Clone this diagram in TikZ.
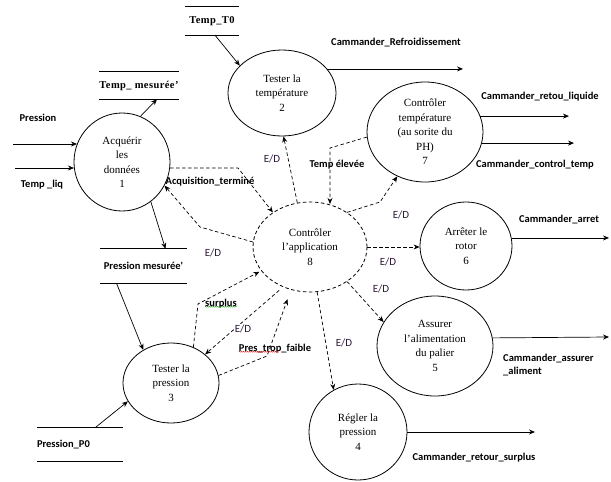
\documentclass[tikz,border=0pt]{standalone}
\usepackage{fontspec}
\setmainfont{Liberation Serif}
\newfontfamily\labfont{Carlito}
\usetikzlibrary{shapes.geometric,arrows.meta,decorations.pathmorphing}
\begin{document}
\begin{tikzpicture}[x=1pt,y=-1pt,
  proc/.style={ellipse,draw,line width=0.8pt,inner sep=0pt,align=center,font=\fontsize{11}{14.5}\selectfont},
  ctrl/.style={proc,dash pattern=on 3.5pt off 2.5pt},
  store/.style={rectangle,inner sep=0pt},
  flow/.style={draw,line width=0.7pt,-{Stealth[length=6pt,width=5pt]}},
  dflow/.style={flow,dash pattern=on 3.5pt off 2.5pt},
  lbl/.style={font=\labfont\bfseries\fontsize{10.5}{13}\selectfont,inner sep=0pt,align=left},
  sto/.style={font=\bfseries\fontsize{10.5}{12}\selectfont\addfontfeature{LetterSpace=4},inner sep=0pt},
  ed/.style={font=\labfont\fontsize{11}{13}\selectfont,inner sep=1pt,text={rgb,255:red,45;green,25;blue,55}},
  squig/.style={decorate,decoration={snake,amplitude=0.5pt,segment length=2pt},line width=0.4pt}
]
\useasboundingbox (0,0) rectangle (611,482);

% processes
\node[proc,minimum width=96,minimum height=98] (n1) at (122,162) {Acquérir\\les\\données\\1};
\node[proc,minimum width=108,minimum height=86] (n2) at (282,93) {Tester la\\température\\2};
\node[proc,minimum width=116,minimum height=100] (n7) at (425,132) {Contrôler\\température\\(au sorite du\\PH)\\7};
\node[ctrl,minimum width=114,minimum height=90] (n8) at (310,247) {Contrôler\\l’application\\8};
\node[proc,minimum width=92,minimum height=88] (n6) at (466,246) {Arrêter le\\rotor\\6};
\node[proc,minimum width=116,minimum height=100] (n5) at (435,346) {Assurer\\l’alimentation\\du palier\\5};
\node[proc,minimum width=98,minimum height=96] (n4) at (358,432) {Régler la\\pression\\4};
\node[proc,minimum width=96,minimum height=80] (n3) at (171,383) {Tester la\\pression\\3};

% data stores
\node[store,sto,minimum width=54,minimum height=28] (st0) at (212,21) {Temp\_T0};
\node[store,sto,minimum width=72,minimum height=27] (stm) at (139,85.5) {Temp\_ mesurée'};
\node[store,lbl,minimum width=87,minimum height=34] (spm) at (143.5,266) {Pression mesurée'};
\node[store,lbl,minimum width=86,minimum height=33,text width=86,align=left] (sp0) at (80,444.5) {Pression\_P0};
\foreach \s in {st0,stm,spm,sp0}{
  \draw[line width=0.7pt] (\s.north west) -- (\s.north east) (\s.south west) -- (\s.south east);
}

% free ends
\coordinate (cpr) at (13,144);
\coordinate (ctl) at (15,168);
\coordinate (co2) at (463,69);
\coordinate (co7a) at (569,116);
\coordinate (co7b) at (574,143);
\coordinate (co6) at (609,238);
\coordinate (co5) at (609,337);
\coordinate (co4) at (535,432);

% solid flows
\draw[flow] (cpr) -- (cpr -| n1.158);
\draw[flow] (ctl) -- (ctl -| n1.187);
\draw[flow] (n1.68) -- ([xshift=18pt]stm.south);
\draw[flow] (n1.306) -- ([xshift=22pt]spm.north);
\draw[flow] ([xshift=-27pt]spm.south) -- (n3.130);
\draw[flow] ([xshift=15pt]sp0.north) -- (n3.203);
\draw[flow] ([xshift=3pt]st0.south) -- (n2.147);
\draw[flow] (n2.28) -- (n2.28 -| co2);
\draw[flow] (n7.16) -- (n7.16 -| co7a);
\draw[flow] (n7.349) -- (n7.349 -| co7b);
\draw[flow] (n6.10) -- (n6.10 -| co6);
\draw[flow] (n5.8) -- (co5);
\draw[flow] (n4.0) -- (n4.0 -| co4);

% dashed control flows
\coordinate (k1) at (238,168);
\coordinate (k2) at (200,227);
\coordinate (k4) at (330,148);
\coordinate (k5) at (380,202);
\coordinate (k9) at (198,304);
\coordinate (k11) at (267,356);
\draw[dflow] (n1.353) -- (n1.353 -| k1) -- (n8.137);
\draw[dflow] (n8.175) -- (k2) -- (n1.331);
\draw[dflow] (n8.106) -- (n2.272);
\draw[dflow] (n7.185) -- (k4) -- (k4 |- n8.67);
\draw[dflow] (n8.43) -- (k5) -- (n7.238);
\draw[dflow] (n8.east) -- (n8.east -| n6.west);
\draw[dflow] (n8.317) -- (n5.155);
\draw[dflow] (n8.279) -- (n4.120);
\draw[dflow,shorten >=2pt] (n3.58) -- (k9) -- (n8.206);
\draw[dflow,shorten <=5pt] (n8.236) -- (n3.40);
\draw[dflow,shorten >=10pt] (n3.9) -- (k11) -- (n8.246);

% labels
\node[lbl] (lpr) at (38,118) {Pression};
\node[lbl] (ltl) at (42,185) {Temp \_liq};
\node[lbl] (lrefr) at (396,43) {Cammander\_Refroidissement};
\node[lbl] (lliq) at (540,97) {Cammander\_retou\_liquide};
\node[lbl] (lctl) at (535,165) {Cammander\_control\_temp};
\node[lbl] (larr) at (559,220) {Cammander\_arret};
\node[lbl,anchor=north west] (lass) at (503,354) {Cammander\_assurer\\\_aliment};
\node[lbl] (lsur) at (474,458) {Cammander\_retour\_surplus};
\node[lbl] (lacq) at (210,182) {Acquisition\_terminé};
\node[lbl] (lte) at (337,165) {Temp élevée};
\node[lbl] (lsp) at (221,304) {surplus};
\node[lbl] (lptf) at (275,349) {Pres\_trop\_faible};
\draw[squig,green!60!black] ([yshift=2pt]lsp.south west) -- ([yshift=2pt]lsp.south east);
\draw[squig,red] ([yshift=2pt]lptf.south west) -- ([yshift=2pt,xshift=-32pt]lptf.south east);

\node[ed] (e1) at (272,159) {E/D};
\node[ed] (e2) at (213,253) {E/D};
\node[ed] (e3) at (401,215) {E/D};
\node[ed] (e4) at (388,262) {E/D};
\node[ed] (e5) at (381,289) {E/D};
\node[ed] (e6) at (344,343) {E/D};
\node[ed,fill=white,inner sep=0.5pt] (e7) at (243,329) {E/D};
\end{tikzpicture}
\end{document}
